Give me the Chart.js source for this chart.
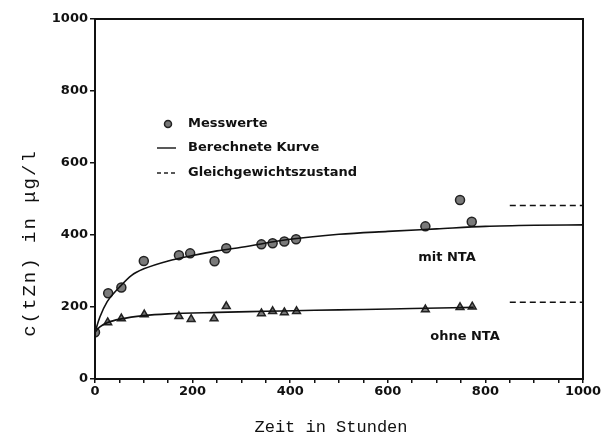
<!DOCTYPE html>
<html>
<head>
<meta charset="utf-8">
<script src="https://cdn.jsdelivr.net/npm/chart.js@4"></script>
<style>
  html, body { margin: 0; padding: 0; background: #fff; }
  #wrap { width: 604px; height: 439px; position: relative; }
</style>
</head>
<body>
<div id="wrap"><canvas id="c" width="604" height="439"></canvas></div>
<script>
// Messwerte mit NTA (Zeit in h, c in µg/l)
const mitX = [0, 27, 54, 100, 172, 195, 245, 269, 341, 364, 388, 412, 677, 748, 772];
const mitY = [130, 238, 254, 328, 344, 349, 327, 363, 374, 377, 382, 388, 424, 497, 437];
// Messwerte ohne NTA
const ohneX = [26, 54, 101, 172, 197, 244, 269, 341, 364, 388, 413, 677, 748, 773];
const ohneY = [157, 168, 179, 174, 166, 168, 202, 182, 188, 185, 188, 193, 199, 201];
// berechnete Kurven
const kurveMitX = [0, 10, 25, 50, 75, 100, 150, 200, 250, 300, 400, 500, 600, 700, 800, 900, 1000];
const kurveMitY = [130, 172, 215, 255, 288, 306, 328, 343, 356, 366, 388, 402, 410, 417, 424, 427, 428];
const kurveOhneX = [0, 10, 26, 54, 100, 150, 250, 350, 450, 550, 650, 776];
const kurveOhneY = [130, 145, 157, 167, 176, 181, 185, 188, 191, 193, 196, 199];
// Gleichgewichtszustand
const gleichX = [850, 1000];
const gleichMit = 482;
const gleichOhne = 213;

const xTicks = [0, 200, 400, 600, 800, 1000];

const pts = (xs, ys) => xs.map((x, i) => ({ x, y: ys[i] }));

const framePlugin = {
  id: 'frame',
  afterDatasetsDraw(chart) {
    const { ctx, chartArea: a } = chart;
    ctx.save();
    ctx.strokeStyle = '#111';
    ctx.lineWidth = 2;
    ctx.strokeRect(a.left, a.top, a.right - a.left, a.bottom - a.top);
    ctx.restore();
  }
};

const textPlugin = {
  id: 'texts',
  afterDraw(chart) {
    const { ctx, chartArea: a } = chart;
    ctx.save();
    ctx.fillStyle = '#111';
    // Achsentitel
    ctx.font = '17px "Liberation Mono"';
    ctx.textAlign = 'center';
    ctx.textBaseline = 'middle';
    ctx.fillText('Zeit in Stunden', (a.left + a.right) / 2 - 8, 427);
    ctx.save();
    ctx.translate(30, 243);
    ctx.rotate(-Math.PI / 2);
    ctx.font = '19px "Liberation Mono"';
    ctx.letterSpacing = '2px';
    ctx.fillText('c(tZn) in \u03BCg/l', 0, 0);
    ctx.restore();

    // Kurvenbeschriftung
    ctx.font = 'bold 13px "DejaVu Sans"';
    ctx.fillText('mit NTA', 447, 258);
    ctx.fillText('ohne NTA', 465, 337);

    // Legende
    ctx.textAlign = 'left';
    ctx.fillText('Messwerte', 188, 124);
    ctx.fillText('Berechnete Kurve', 188, 148);
    ctx.fillText('Gleichgewichtszustand', 188, 173);
    ctx.beginPath();
    ctx.arc(168, 124, 3.5, 0, Math.PI * 2);
    ctx.fillStyle = '#777';
    ctx.fill();
    ctx.lineWidth = 1.5;
    ctx.strokeStyle = '#222';
    ctx.stroke();
    ctx.beginPath();
    ctx.moveTo(157, 148);
    ctx.lineTo(176, 148);
    ctx.stroke();
    ctx.setLineDash([4, 3]);
    ctx.beginPath();
    ctx.moveTo(157, 173);
    ctx.lineTo(176, 173);
    ctx.stroke();
    ctx.restore();
  }
};

const lineDs = (data, dash) => ({
  type: 'line',
  data,
  borderColor: '#111',
  borderWidth: 1.6,
  borderDash: dash || [],
  pointRadius: 0,
  tension: 0.4,
  cubicInterpolationMode: 'monotone',
  fill: false
});

new Chart(document.getElementById('c'), {
  type: 'scatter',
  data: {
    datasets: [
      lineDs(pts(kurveMitX, kurveMitY)),
      lineDs(pts(kurveOhneX, kurveOhneY)),
      lineDs(pts(gleichX, gleichX.map(() => gleichMit)), [6, 4]),
      lineDs(pts(gleichX, gleichX.map(() => gleichOhne)), [6, 4]),
      {
        data: pts(mitX, mitY),
        pointStyle: 'circle',
        pointRadius: 4.5,
        backgroundColor: '#7a7a7a',
        borderColor: '#222',
        borderWidth: 1.5
      },
      {
        data: pts(ohneX, ohneY),
        pointStyle: 'triangle',
        pointRadius: 4.5,
        backgroundColor: '#777',
        borderColor: '#222',
        borderWidth: 1.5
      }
    ]
  },
  options: {
    responsive: false,
    animation: false,
    layout: { padding: { left: 0, top: 19, right: 21, bottom: 0 } },
    plugins: { legend: { display: false }, tooltip: { enabled: false } },
    scales: {
      x: {
        type: 'linear',
        min: 0,
        max: 1000,
        afterFit: s => { s.height = 60; },
        afterBuildTicks: s => { s.ticks = []; for (let v = 0; v <= 1000; v += 50) s.ticks.push({ value: v }); },
        ticks: {
          autoSkip: false,
          maxRotation: 0,
          padding: 1,
          color: '#111',
          font: { family: 'DejaVu Sans', weight: 'bold', size: 13 },
          callback: v => (xTicks.includes(v) ? String(v) : '')
        },
        grid: { display: true, drawOnChartArea: false, tickLength: 4, color: '#111', lineWidth: 1.5 },
        border: { display: false }
      },
      y: {
        min: 0,
        max: 1000,
        afterFit: s => { s.width = 95; },
        ticks: {
          stepSize: 200,
          padding: 2,
          color: '#111',
          font: { family: 'DejaVu Sans', weight: 'bold', size: 13 },
          callback: v => String(v)
        },
        grid: { display: true, drawOnChartArea: false, tickLength: 5, color: '#111', lineWidth: 1.5 },
        border: { display: false }
      }
    }
  },
  plugins: [framePlugin, textPlugin]
});
</script>
</body>
</html>
